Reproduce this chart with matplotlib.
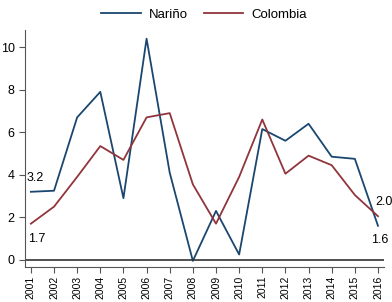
import matplotlib
matplotlib.use("Agg")
import matplotlib.pyplot as plt

years = list(range(2001, 2017))
narino = [3.2, 3.25, 6.7, 7.9, 2.9, 10.4, 4.1, -0.05, 2.3, 0.25, 6.15, 5.6, 6.4, 4.85, 4.75, 1.6]
colombia = [1.7, 2.5, 3.9, 5.35, 4.7, 6.7, 6.9, 3.55, 1.7, 3.9, 6.6, 4.05, 4.9, 4.45, 3.05, 2.05]
yticks = [0, 2, 4, 6, 8, 10]

plt.rcParams['font.family'] = ['Liberation Sans', 'DejaVu Sans']

fig = plt.figure(figsize=(3.92, 3.02), dpi=100)
ax = fig.add_axes([0.064, 0.115, 0.915, 0.785])

navy = '#1a476f'
maroon = '#90353b'
ax.plot(years, narino, color=navy, lw=1.3, label='Nariño')
ax.plot(years, colombia, color=maroon, lw=1.3, label='Colombia')
ax.axhline(0, color='#333333', lw=1.2)

# end labels
ax.text(years[0] - 0.2, narino[0] + 0.35, '%.1f' % narino[0], fontsize=9, ha='left', va='bottom')
ax.text(years[0] - 0.1, colombia[0] - 0.45, '%.1f' % colombia[0], fontsize=9, ha='left', va='top')
ax.text(years[-1] - 0.1, colombia[-1] + 0.4, '%.1f' % colombia[-1], fontsize=9, ha='left', va='bottom')
ax.text(years[-1] - 0.3, narino[-1] - 0.4, '%.1f' % narino[-1], fontsize=9, ha='left', va='top')

ax.set_xlim(2000.75, 2016.25)
ax.set_ylim(-0.35, 10.8)
ax.set_xticks(years)
ax.set_xticklabels([str(y) for y in years], rotation=90, fontsize=7.5)
ax.set_yticks(yticks)
ax.set_yticklabels([str(t) for t in yticks], fontsize=9)
ax.tick_params(length=4, color='#555555', width=0.8)
ax.tick_params(axis='x', pad=2)
for s in ['top', 'right']:
    ax.spines[s].set_visible(False)
for s in ['left', 'bottom']:
    ax.spines[s].set_color('#555555')
    ax.spines[s].set_linewidth(0.8)

fig.legend(loc='upper center', bbox_to_anchor=(0.52, 1.01), ncol=2, frameon=False,
           fontsize=9.5, handlelength=3.0, handletextpad=0.6, columnspacing=1.2)

fig.savefig('out.png', dpi=100)
